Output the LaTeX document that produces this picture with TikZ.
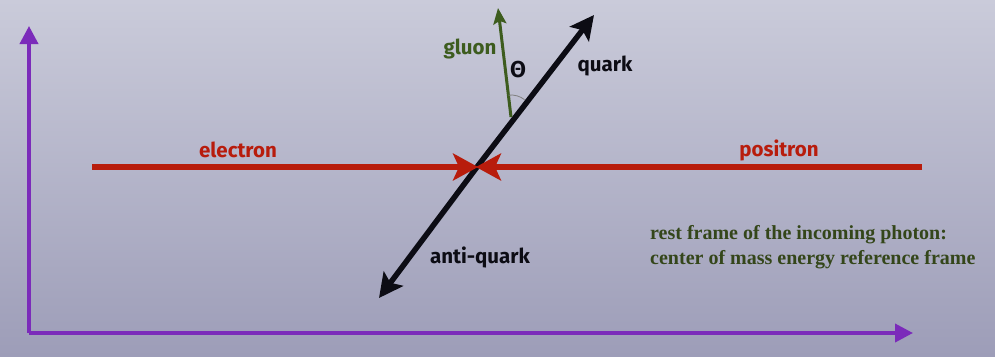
\documentclass[tikz,border=0pt]{standalone}
\usepackage{fontspec}
\newfontfamily\labfont{Fira Sans}
\newfontfamily\notefont{Liberation Serif}
\usetikzlibrary{arrows.meta}
\definecolor{bgtop}{HTML}{CACBDA}
\definecolor{bgbot}{HTML}{9D9DB8}
\definecolor{axisc}{HTML}{7B2BBA}
\definecolor{redc}{HTML}{B81C0C}
\definecolor{gluc}{HTML}{3D5C1E}
\definecolor{txtg}{HTML}{34461A}
\definecolor{quarkc}{HTML}{0C0C14}
\begin{document}
\begin{tikzpicture}[x=1pt,y=-1pt,
  axis/.style={draw=axisc,line width=3.8pt,-{Triangle[length=18pt,width=18pt]}},
  beam/.style={draw=redc,line width=6.5pt,-{Stealth[length=25pt,width=27pt,inset=6pt]}},
  qline/.style={draw=quarkc,line width=5.5pt,-{Stealth[length=24pt,width=24pt,inset=5pt]}},
  gline/.style={draw=gluc,line width=3pt,-{Stealth[length=16pt,width=13pt,inset=3pt]}},
  lab/.style={font=\labfont\bfseries\fontsize{20.5}{22}\selectfont,inner sep=0pt},
  note/.style={font=\notefont\bfseries\fontsize{20}{25}\selectfont,text=txtg,align=left,inner sep=0pt,anchor=north west}]
\shade[top color=bgtop,bottom color=bgbot] (0,0) rectangle (995,356);
\useasboundingbox (0,0) rectangle (995,356);
% axes
\coordinate (orig) at (29,333);
\coordinate (ytip) at (29,26);
\coordinate (xtip) at (913,333);
\draw[axis] (orig) -- (ytip);
\draw[axis] (orig) -- (xtip);
% quark / anti-quark
\coordinate (c) at (477,167);
\coordinate (qtip) at (594,15);
\coordinate (aqtip) at (379,298);
\draw[qline] (c) -- (qtip);
\draw[qline] (c) -- (aqtip);
% beams
\coordinate (estart) at (92,167);
\coordinate (pstart) at (922,167);
\coordinate (ce) at (478,167);
\coordinate (cp) at (476,167);
\draw[beam] (estart) -- (ce);
\draw[beam] (pstart) -- (cp);
% gluon
\coordinate (gs) at (511,117);
\coordinate (gtip) at (498,8);
\draw[gline] (gs) -- (gtip);
\draw[gray,line width=0.8pt] ([shift={(-96:22)}]gs) arc[start angle=-96,end angle=-52,radius=22];
% labels
\node[lab,text=gluc] (gl) at (470,49) {gluon};
\node[font=\labfont\bfseries\fontsize{23}{24}\selectfont,inner sep=0pt,text=quarkc] (th) at (518,70) {Θ};
\node[lab,text=quarkc] (ql) at (605,66) {quark};
\node[lab,text=redc] (el) at (238,150) {electron};
\node[lab,text=redc] (pl) at (779,150) {positron};
\node[lab,text=quarkc] (aql) at (480,257) {anti-quark};
\node[note] (n1) at (650,225) {rest frame of the incoming photon:\\center of mass energy reference frame};
\end{tikzpicture}
\end{document}
